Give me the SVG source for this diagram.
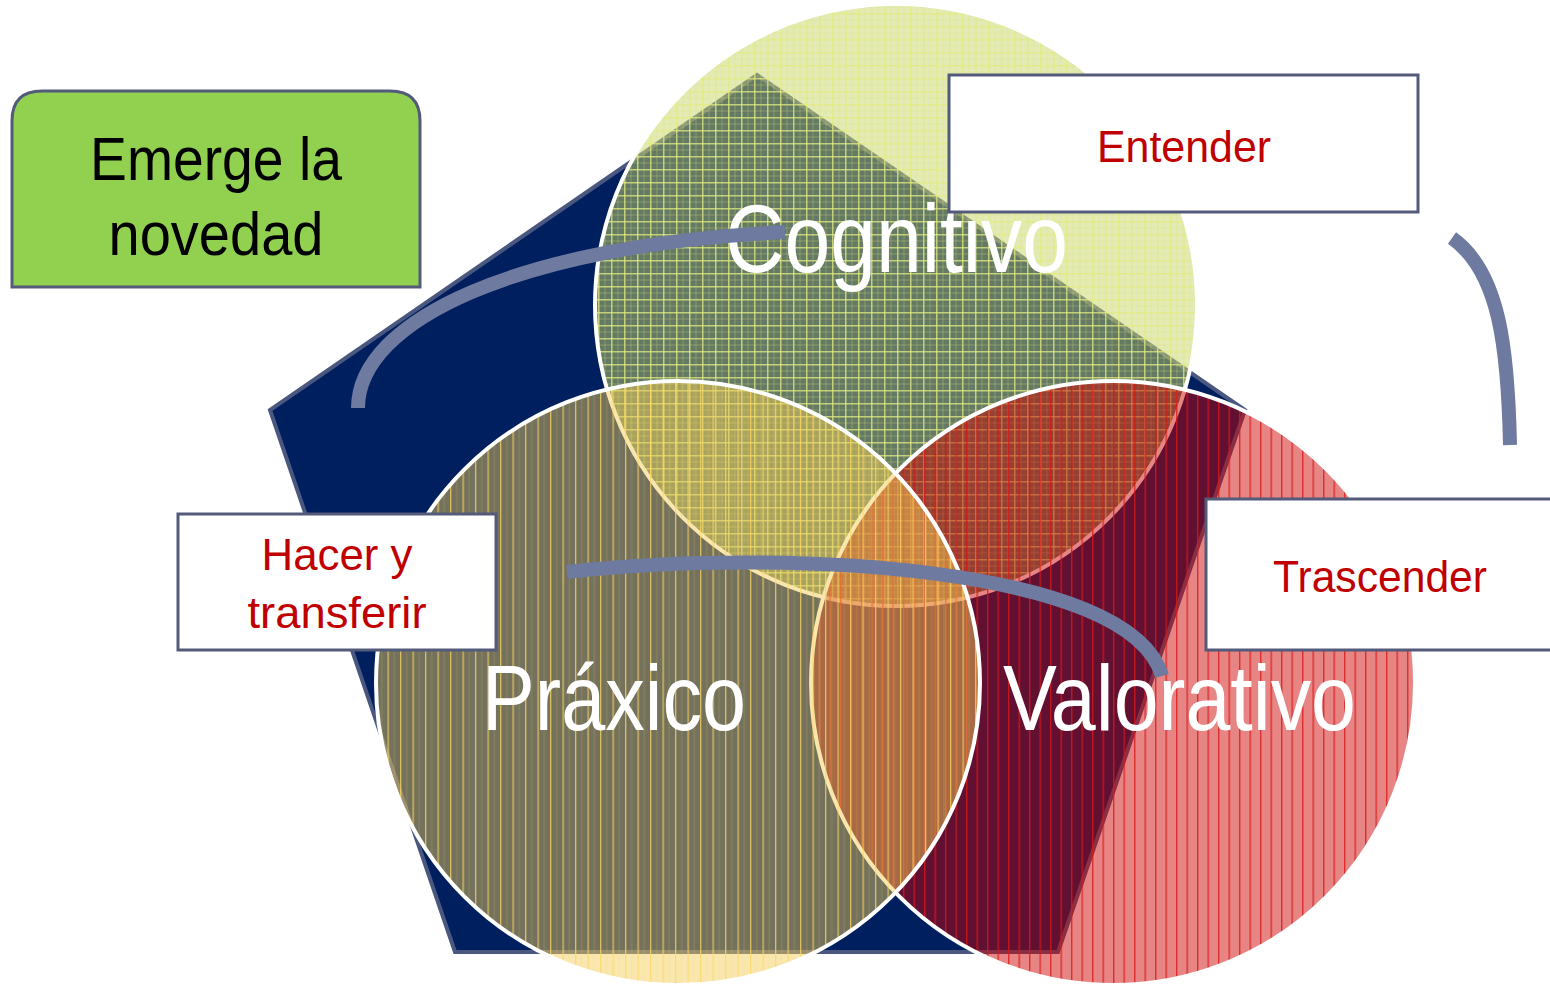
<svg xmlns="http://www.w3.org/2000/svg" width="1550" height="984" viewBox="0 0 1550 984">
<defs>
<pattern id="pGrid" width="13" height="13" patternUnits="userSpaceOnUse">
<rect width="13" height="13" fill="#c8d66a" fill-opacity="0.5"/>
<rect x="0" y="0" width="1.5" height="13" fill="#e2ea80" opacity="0.75"/>
<rect x="0" y="0" width="13" height="1.5" fill="#e2ea80" opacity="0.75"/>
<rect x="6.5" y="0" width="1" height="13" fill="#d8e080" opacity="0.3"/>
<rect x="0" y="6.5" width="13" height="1" fill="#d8e080" opacity="0.3"/>
</pattern>
<pattern id="pYel" width="12.5" height="12" patternUnits="userSpaceOnUse">
<rect width="12.5" height="12" fill="#f2cc58" fill-opacity="0.48"/>
<rect x="0" y="0" width="1.3" height="12" fill="#ffd860" opacity="0.75"/>
<rect x="6.2" y="0" width="1" height="12" fill="#f5cf60" opacity="0.2"/>
</pattern>
<pattern id="pRed" width="10.5" height="10" patternUnits="userSpaceOnUse">
<rect width="10.5" height="10" fill="#cc0000" fill-opacity="0.48"/>
<rect x="0" y="0" width="1.4" height="10" fill="#d81818" opacity="0.8"/>
</pattern>
<style>
.circ{stroke:#ffffff;stroke-width:4}
.box{fill:#ffffff;stroke:#535a7a;stroke-width:3}
.big{font-family:"Liberation Sans",Arial,sans-serif;fill:#ffffff}
.lbl{font-family:"Liberation Sans",Arial,sans-serif;fill:#c00000;font-size:44px;text-anchor:middle}
.arc{fill:none;stroke:#6e7aa0;stroke-width:14;stroke-linecap:butt}
</style>
</defs>
<rect width="1550" height="984" fill="#ffffff"/>
<g id="pentagon">
<polygon points="757,75 1245,410 1058,952 455,952 270,410" fill="#001f5f" stroke="#4a5880" stroke-width="4" stroke-linejoin="miter"/>
</g>
<g id="cognitivo">
<circle class="circ" cx="896" cy="305" r="301" fill="url(#pGrid)"/>
</g>
<g id="valorativo">
<circle class="circ" cx="1113" cy="683" r="302" fill="url(#pRed)"/>
</g>
<g id="praxico">
<circle class="circ" cx="678" cy="683" r="302" fill="url(#pYel)"/>
</g>
<g id="labels-main">
<text class="big" x="725" y="272" font-size="96" textLength="343" lengthAdjust="spacingAndGlyphs">Cognitivo</text>
<text class="big" x="482" y="730" font-size="92" textLength="264" lengthAdjust="spacingAndGlyphs">Práxico</text>
<text class="big" x="1003" y="730" font-size="92" textLength="353" lengthAdjust="spacingAndGlyphs">Valorativo</text>
</g>
<g id="connectors">
<path class="arc" d="M358,408 C358,320 520,245 785,232"/>
<path class="arc" d="M567,572 C780,548 1130,565 1162,676"/>
<path class="arc" d="M1452,238 C1500,272 1508,350 1510,445"/>
</g>
<g id="emerge">
<path d="M12,287 L12,121 Q12,91 42,91 L390,91 Q420,91 420,121 L420,287 Z" fill="#92d050" stroke="#535a7a" stroke-width="3"/>
<text x="216" y="180" font-family="Liberation Sans,Arial,sans-serif" font-size="62" fill="#000000" text-anchor="middle" textLength="252" lengthAdjust="spacingAndGlyphs">Emerge la</text>
<text x="216" y="255" font-family="Liberation Sans,Arial,sans-serif" font-size="62" fill="#000000" text-anchor="middle" textLength="215" lengthAdjust="spacingAndGlyphs">novedad</text>
</g>
<g id="entender">
<rect class="box" x="949" y="75" width="469" height="137"/>
<text class="lbl" x="1184" y="162" font-size="46" textLength="174" lengthAdjust="spacingAndGlyphs">Entender</text>
</g>
<g id="hacer">
<rect class="box" x="178" y="514" width="318" height="136"/>
<text class="lbl" x="337" y="570" textLength="151" lengthAdjust="spacingAndGlyphs">Hacer y</text>
<text class="lbl" x="337" y="628" textLength="179" lengthAdjust="spacingAndGlyphs">transferir</text>
</g>
<g id="trascender">
<rect class="box" x="1206" y="499" width="350" height="151"/>
<text class="lbl" x="1380" y="592" textLength="214" lengthAdjust="spacingAndGlyphs">Trascender</text>
</g>
</svg>
